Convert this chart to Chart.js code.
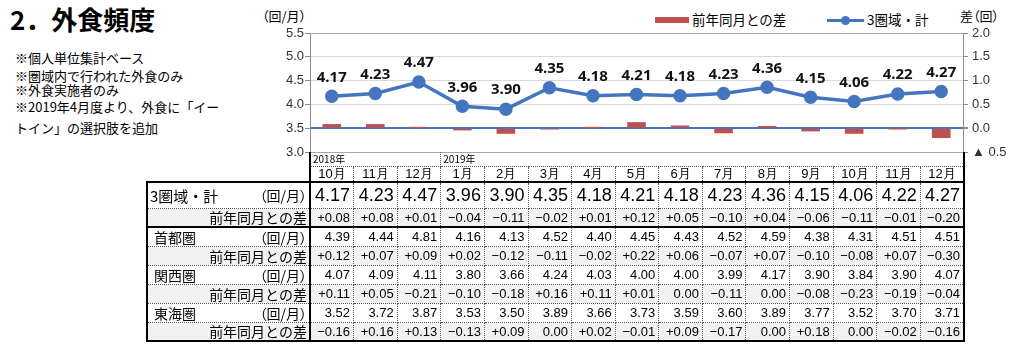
<!DOCTYPE html>
<html lang="ja">
<head>
<meta charset="utf-8">
<script src="https://cdn.jsdelivr.net/npm/chart.js@4"></script>
<style>
  html, body { margin: 0; padding: 0; background: #fff; }
  body { width: 1024px; height: 350px; position: relative; overflow: hidden;
         font-family: "Noto Sans CJK JP", sans-serif; color: #000; }
  .abs { position: absolute; white-space: nowrap; line-height: 1; }
  .palt { font-feature-settings: "palt" 1; }
  #title { left: 10px; top: 6px; font-size: 26px; font-weight: bold; }
  .note { left: 15px; font-size: 13px; }
  #c { position: absolute; left: 0; top: 0; }
  .swatch { position: absolute; }
  #tbl { position: absolute; left: 146px; top: 152px; border-collapse: collapse;
         table-layout: fixed; width: 817px; }
  #tbl td { padding: 0 3px 0 0; white-space: nowrap; overflow: hidden;
            font-family: "Liberation Sans", Arial, sans-serif; font-size: 13px;
            text-align: right; border: 1px dotted #555; line-height: 1; }
  #tbl td.blank { border: none; }
  #tbl tr.yr td { font-family: "Noto Sans CJK JP", sans-serif; font-size: 10px;
                  text-align: left; vertical-align: top; padding: 2px 0 0 2px; border-top: none; }
  #tbl tr.mo td { text-align: center; padding: 0; font-size: 13px; }
  #tbl td.first { border-left: 2px solid #000; }
  #tbl td.last { border-right: 2px solid #000; }
  #tbl td.lab { border-left: 2px solid #000; border-right: 2px solid #000;
                font-family: "Noto Sans CJK JP", sans-serif; padding: 0 2px 0 2px; }
  #tbl tr.top td { border-top: 2px solid #000; }
  #tbl tr.end td { border-bottom: 2px solid #000; }
  #tbl tr.diff td { background: #f2f2f2; }
  #tbl tr.big td { font-size: 18px; }
  .lw { display: flex; justify-content: space-between; align-items: center; }
</style>
</head>
<body>
<div class="abs" id="title">2．外食頻度</div>
<div class="abs note" style="top:51px">※個人単位集計ベース</div>
<div class="abs note" style="top:69px">※圏域内で行われた外食のみ</div>
<div class="abs note" style="top:83px">※外食実施者のみ</div>
<div class="abs note" style="top:100px">※2019年4月度より、外食に「イー</div>
<div class="abs note" style="top:121px">トイン」の選択肢を追加</div>

<div class="abs palt" style="left:262px; top:9px; font-size:13px;">（回/月）</div>
<div class="abs palt" style="left:960px; top:9px; font-size:13px;">差（回）</div>

<div class="swatch" style="left:655px; top:17px; width:34px; height:6px; background:#c0504d;"></div>
<div class="abs" style="left:692px; top:13px; font-size:13.5px;">前年同月との差</div>
<div class="swatch" style="left:827px; top:19px; width:37px; height:3px; background:#4675bf;"></div>
<div class="swatch" style="left:841px; top:16px; width:9px; height:9px; border-radius:50%; background:#4675bf;"></div>
<div class="abs" style="left:867px; top:13px; font-size:13.5px;">3圏域・計</div>

<canvas id="c" width="1024" height="180"></canvas>
<table id="tbl"></table>

<script>
const months = ["10月", "11月", "12月", "1月", "2月", "3月", "4月", "5月", "6月",
                "7月", "8月", "9月", "10月", "11月", "12月"];
const yearLabels = ["2018年", "2019年"];
const yearSpans = [3, 12];

const total     = [4.17, 4.23, 4.47, 3.96, 3.90, 4.35, 4.18, 4.21, 4.18, 4.23, 4.36, 4.15, 4.06, 4.22, 4.27];
const totalDiff = [0.08, 0.08, 0.01, -0.04, -0.11, -0.02, 0.01, 0.12, 0.05, -0.10, 0.04, -0.06, -0.11, -0.01, -0.20];
const shuto     = [4.39, 4.44, 4.81, 4.16, 4.13, 4.52, 4.40, 4.45, 4.43, 4.52, 4.59, 4.38, 4.31, 4.51, 4.51];
const shutoDiff = [0.12, 0.07, 0.09, 0.02, -0.12, -0.11, -0.02, 0.22, 0.06, -0.07, 0.07, -0.10, -0.08, 0.07, -0.30];
const kansai    = [4.07, 4.09, 4.11, 3.80, 3.66, 4.24, 4.03, 4.00, 4.00, 3.99, 4.17, 3.90, 3.84, 3.90, 4.07];
const kansaiDiff = [0.11, 0.05, -0.21, -0.10, -0.18, 0.16, 0.11, 0.01, 0.00, -0.11, 0.00, -0.08, -0.23, -0.19, -0.04];
const tokai     = [3.52, 3.72, 3.87, 3.53, 3.50, 3.89, 3.66, 3.73, 3.59, 3.60, 3.89, 3.77, 3.52, 3.70, 3.71];
const tokaiDiff = [-0.16, 0.16, 0.13, -0.13, 0.09, 0.00, 0.02, -0.01, 0.09, -0.17, 0.00, 0.18, 0.00, -0.02, -0.16];

const lineColor = "#4675bf";
const barColor = "#c0504d";

// value labels above the line points
const valueLabels = {
  id: "valueLabels",
  afterDatasetsDraw(chart) {
    const meta = chart.getDatasetMeta(0);
    const ctx = chart.ctx;
    ctx.save();
    ctx.font = 'bold 15px "Noto Sans", sans-serif';
    ctx.fillStyle = "#111";
    ctx.textAlign = "center";
    ctx.textBaseline = "middle";
    meta.data.forEach((pt, i) => {
      ctx.fillText(total[i].toFixed(2), pt.x, pt.y - 19);
    });
    ctx.restore();
  }
};

const tickFont = { family: '"Liberation Sans", Arial, sans-serif', size: 13 };

new Chart(document.getElementById("c"), {
  type: "bar",
  data: {
    labels: months,
    datasets: [
      {
        type: "line",
        label: "3圏域・計",
        data: total,
        yAxisID: "y",
        borderColor: lineColor,
        backgroundColor: lineColor,
        borderWidth: 3.5,
        pointRadius: 5,
        pointBackgroundColor: lineColor,
        pointBorderColor: lineColor,
        tension: 0
      },
      {
        type: "bar",
        label: "前年同月との差",
        data: totalDiff,
        yAxisID: "y2",
        backgroundColor: barColor,
        barThickness: 18
      }
    ]
  },
  options: {
    animation: false,
    responsive: false,
    layout: { padding: { top: 33, bottom: 28, left: 0, right: 0 } },
    plugins: { legend: { display: false }, tooltip: { enabled: false } },
    scales: {
      x: { display: false, offset: true },
      y: {
        position: "left",
        min: 3, max: 5.5,
        ticks: { stepSize: 0.5, padding: 1, color: "#333", font: tickFont,
                 callback: v => v.toFixed(1) },
        grid: {
          color: c => {
            const v = c.tick.value;
            if (Math.abs(v - 3.5) < 1e-6) return "rgba(0,0,0,0)";
            if (v >= 5.49 || v <= 3.01) return "#a6a6a6";
            return "#d9d9d9";
          },
          tickColor: "#8c8c8c",
          tickLength: 5
        },
        border: { color: "#8c8c8c" },
        afterFit: s => { s.width = 310; }
      },
      y2: {
        position: "right",
        min: -0.5, max: 2,
        ticks: { stepSize: 0.5, padding: 4, color: "#333", font: tickFont,
                 callback: v => v < 0 ? "▲ " + Math.abs(v).toFixed(1) : v.toFixed(1) },
        grid: {
          color: c => Math.abs(c.tick.value) < 1e-6 ? lineColor : "rgba(0,0,0,0)",
          lineWidth: c => Math.abs(c.tick.value) < 1e-6 ? 2 : 1,
          tickColor: "#8c8c8c",
          tickLength: 5
        },
        border: { color: "#8c8c8c" },
        afterFit: s => { s.width = 61; }
      }
    }
  },
  plugins: [valueLabels]
});

// table under the chart
function fmtDiff(v) {
  if (v > 0) return "+" + v.toFixed(2);
  if (v < 0) return "−" + Math.abs(v).toFixed(2);
  return "0.00";
}

function cells(arr, fmt) {
  return arr.map((v, i) =>
    '<td class="' + (i === arr.length - 1 ? "last" : "") + '">' + fmt(v) + "</td>").join("");
}

const rows = [
  { name: "3圏域・計", vals: total, diff: totalDiff, indent: 0 },
  { name: "首都圏", vals: shuto, diff: shutoDiff, indent: 4 },
  { name: "関西圏", vals: kansai, diff: kansaiDiff, indent: 4 },
  { name: "東海圏", vals: tokai, diff: tokaiDiff, indent: 4 }
];

let html = '<colgroup><col style="width:163px">';
months.forEach(() => { html += '<col style="width:43.6px">'; });
html += "</colgroup>";

html += '<tr class="yr" style="height:14px"><td class="blank"></td>';
yearLabels.forEach((y, i) => {
  html += '<td colspan="' + yearSpans[i] + '" class="' + (i === 0 ? "first" : "last") + '">' + y + "</td>";
});
html += "</tr>";

html += '<tr class="mo" style="height:16px"><td class="blank"></td>';
months.forEach((m, i) => {
  const cls = i === 0 ? "first" : (i === months.length - 1 ? "last" : "");
  html += '<td class="' + cls + '">' + m + "</td>";
});
html += "</tr>";

rows.forEach((r, k) => {
  const big = k === 0;
  const trCls = (k <= 1 ? "top " : "") + (big ? "big" : "");
  const nameSize = big ? 15 : 14;
  html += '<tr class="' + trCls + '" style="height:' + (big ? 26 : 19) + 'px">' +
    '<td class="lab"><div class="lw"><span style="font-size:' + nameSize + 'px; padding-left:' + r.indent + 'px">' +
    r.name + '</span><span class="palt" style="font-size:14px">（回/月）</span></div></td>' +
    cells(r.vals, v => v.toFixed(2)) + "</tr>";
  html += '<tr class="diff' + (k === rows.length - 1 ? " end" : "") + '" style="height:19px">' +
    '<td class="lab" style="text-align:right; font-size:14px">前年同月との差</td>' +
    cells(r.diff, fmtDiff) + "</tr>";
});

document.getElementById("tbl").innerHTML = html;
</script>
</body>
</html>
